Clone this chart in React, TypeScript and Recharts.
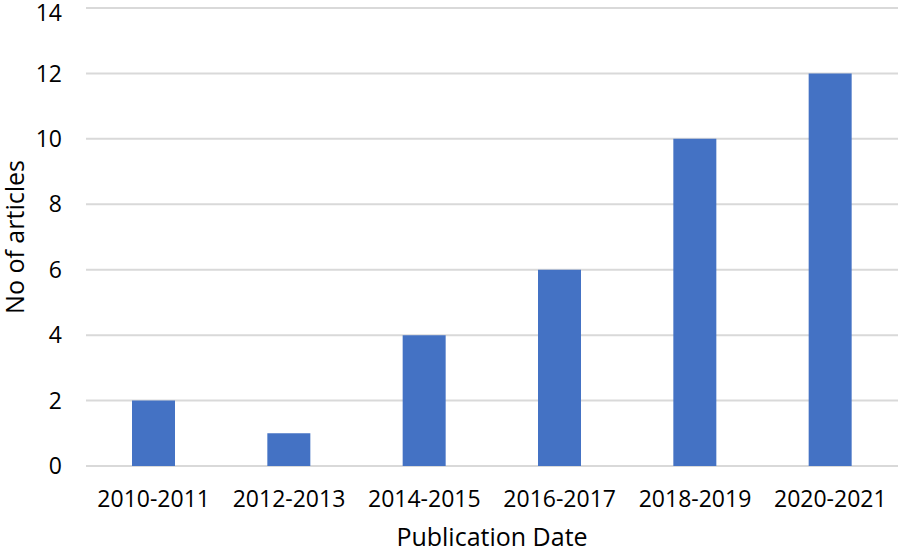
import React from 'react';
import { BarChart, Bar, XAxis, YAxis, CartesianGrid } from 'recharts';

const periods = ['2010-2011', '2012-2013', '2014-2015', '2016-2017', '2018-2019', '2020-2021'];
const articles = [2, 1, 4, 6, 10, 12];
const yTicks = [0, 2, 4, 6, 8, 10, 12, 14];

const data = periods.map((period, i) => ({ period, articles: articles[i] }));

const FONT = '"Open Sans", sans-serif';

export default function App() {
  return (
    <div style={{ position: 'absolute', left: 0, top: 0, width: 898, height: 551, background: '#fff' }}>
      <BarChart
        width={898}
        height={551}
        data={data}
        margin={{ top: 8, right: 0, left: 0, bottom: 0 }}
      >
        <CartesianGrid vertical={false} stroke="#D9D9D9" strokeWidth={2} />
        <XAxis
          dataKey="period"
          height={85}
          axisLine={false}
          tickLine={false}
          tickSize={0}
          tickMargin={25}
          interval={0}
          tick={{ fill: '#000', fontSize: 23, fontFamily: FONT }}
          label={{
            value: 'Publication Date',
            position: 'insideBottom',
            offset: 5,
            style: { fill: '#000', fontSize: 25, fontFamily: FONT },
          }}
        />
        <YAxis
          width={86}
          domain={[0, 14]}
          ticks={yTicks}
          axisLine={false}
          tickLine={false}
          tickSize={0}
          tickMargin={24}
          tick={{ fill: '#000', fontSize: 23, fontFamily: FONT }}
          label={{
            value: 'No of articles',
            angle: -90,
            position: 'insideLeft',
            offset: 15,
            style: { fill: '#000', fontSize: 25, fontFamily: FONT, textAnchor: 'middle' },
          }}
        />
        <Bar dataKey="articles" fill="#4472C4" barSize={43} isAnimationActive={false} />
      </BarChart>
    </div>
  );
}
